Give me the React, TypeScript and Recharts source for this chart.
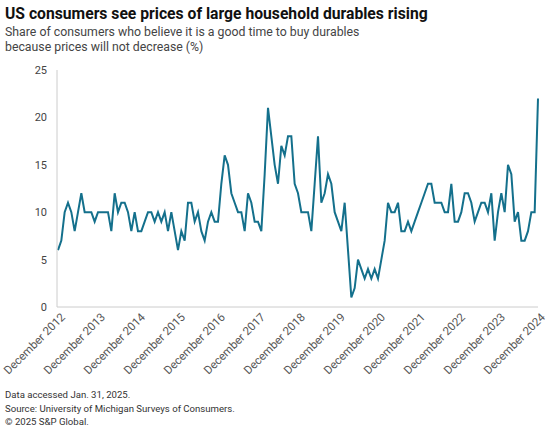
import React from 'react';
import { LineChart, Line, XAxis, YAxis } from 'recharts';

// Monthly share (%), December 2012 through December 2024
const shareValues = [
  6, 7, 10, 11, 10, 8, 10, 12, 10, 10, 10, 9,
  10, 10, 10, 10, 8, 12, 10, 11, 11, 10, 8, 10,
  8, 8, 9, 10, 10, 9, 10, 9, 10, 8, 10, 8,
  6, 8, 7, 11, 11, 9, 10, 8, 7, 9, 10, 9,
  9, 13, 16, 15, 12, 11, 10, 10, 8, 12, 11, 9,
  9, 8, 14, 21, 18, 15, 13, 17, 16, 18, 18, 13,
  12, 10, 10, 10, 8, 13, 18, 11, 12, 14, 13, 10,
  9, 8, 11, 6, 1, 2, 5, 4, 3, 4, 3, 4,
  3, 5, 7, 11, 10, 10, 11, 8, 8, 9, 8, 9,
  10, 11, 12, 13, 13, 11, 11, 11, 10, 10, 13, 9,
  9, 10, 12, 12, 11, 9, 10, 11, 11, 10, 12, 7,
  10, 12, 10, 15, 14, 9, 10, 7, 7, 8, 10, 10,
  22,
];
const startYear = 2012;
const startMonth = 12;
const yTicks = [0, 5, 10, 15, 20, 25];

const months = shareValues.map((_, i) => {
  const total = startYear * 12 + (startMonth - 1) + i;
  const y = Math.floor(total / 12);
  const m = (total % 12) + 1;
  return `${y}-${String(m).padStart(2, '0')}`;
});

const data = months.map((month, i) => ({ month, share: shareValues[i] }));

const FONT = 'Roboto, "Liberation Sans", Arial, sans-serif';

const XTick = (props: any) => {
  const { x, y, payload } = props;
  const year = String(payload.value).slice(0, 4);
  return (
    <g transform={`translate(${x + 5},${y})`}>
      <text x={0} y={0} dy={4} textAnchor="end" transform="rotate(-45)" fill="#555" fontSize={11.5} fontFamily={FONT}>
        {`December ${year}`}
      </text>
    </g>
  );
};

const App = () => {
  return (
    <div style={{ position: 'absolute', left: 0, top: 0, width: 556, height: 435, background: '#fff', fontFamily: FONT }}>
      <div style={{ position: 'absolute', left: 5, top: 4, fontSize: 15.7, fontWeight: 700, color: '#111', whiteSpace: 'nowrap' }}>
        US consumers see prices of large household durables rising
      </div>
      <div style={{ position: 'absolute', left: 5, top: 25, fontSize: 12.3, lineHeight: '15px', color: '#444' }}>
        Share of consumers who believe it is a good time to buy durables
        <br />
        because prices will not decrease (%)
      </div>
      <div style={{ position: 'absolute', left: 0, top: 0 }}>
        <LineChart width={556} height={380} data={data} margin={{ top: 70, right: 18, bottom: 0, left: 0 }}>
          <XAxis
            dataKey="month"
            interval={11}
            tickLine={false}
            axisLine={{ stroke: '#cccccc' }}
            tick={<XTick />}
            height={73}
            padding={{ left: 1, right: 0 }}
          />
          <YAxis
            domain={[0, 25]}
            ticks={yTicks}
            width={57}
            tickLine={false}
            axisLine={{ stroke: '#cccccc' }}
            tick={{ fill: '#444', fontSize: 11, fontFamily: FONT }}
            tickMargin={4}
          />
          <Line
            type="linear"
            dataKey="share"
            stroke="#14708c"
            strokeWidth={2}
            dot={false}
            isAnimationActive={false}
          />
        </LineChart>
      </div>
      <div style={{ position: 'absolute', left: 5, top: 388, fontSize: 9.6, lineHeight: '13.5px', color: '#333' }}>
        Data accessed Jan. 31, 2025.
        <br />
        Source: University of Michigan Surveys of Consumers.
        <br />
        © 2025 S&amp;P Global.
      </div>
    </div>
  );
};

export default App;
